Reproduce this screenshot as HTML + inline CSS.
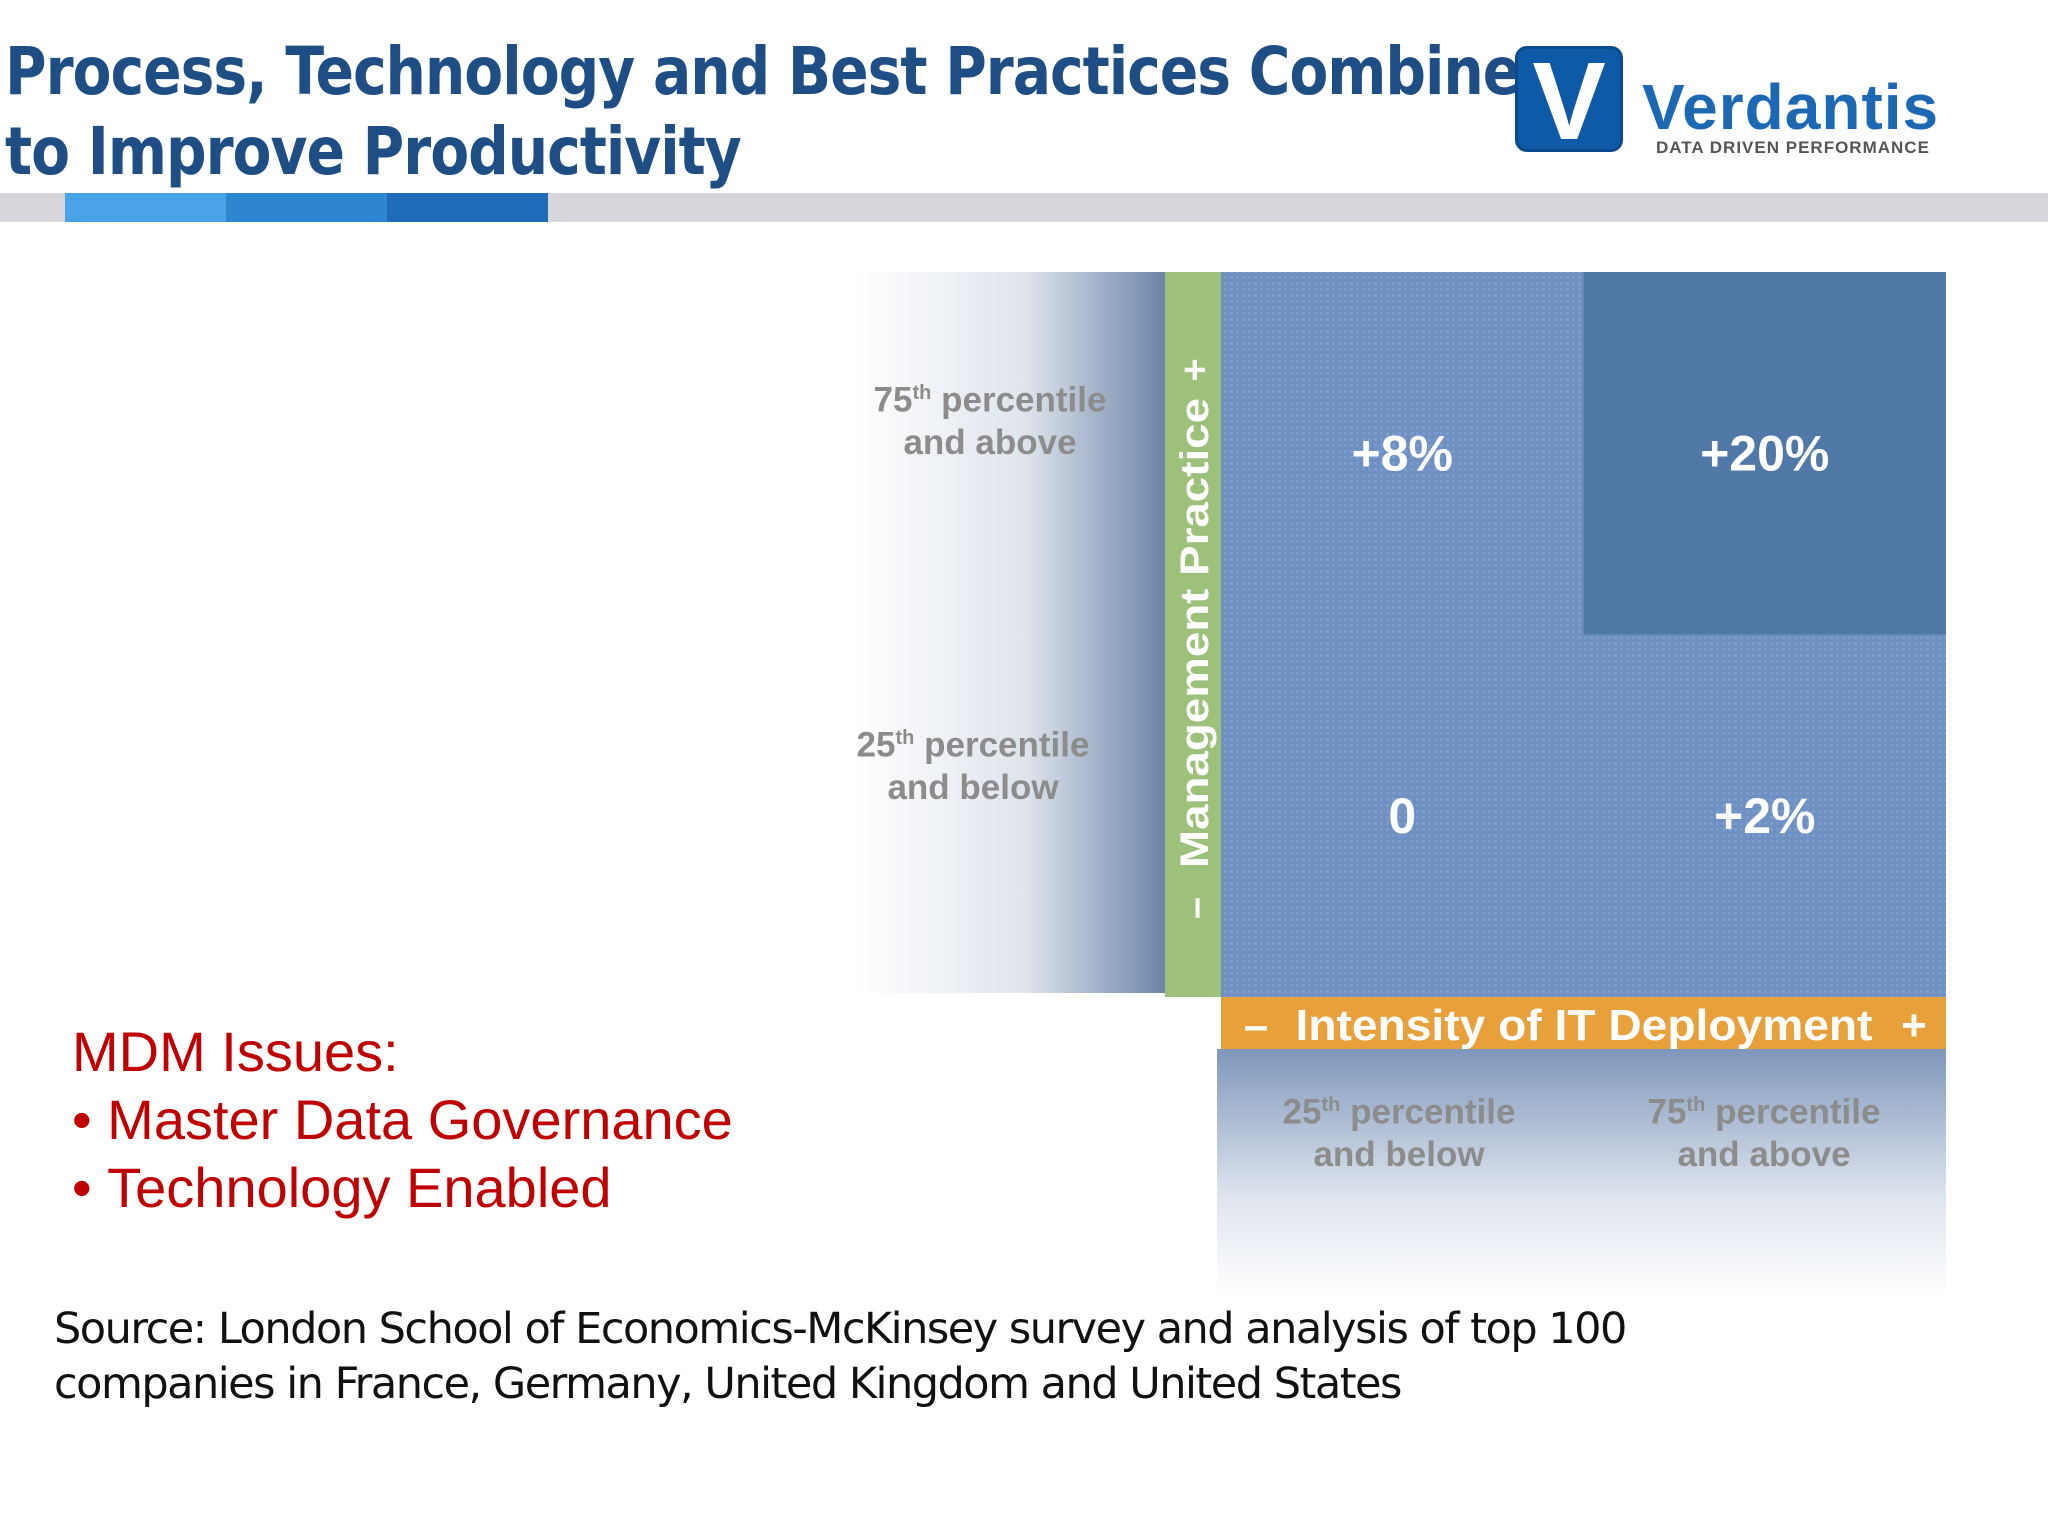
<!DOCTYPE html>
<html><head><meta charset="utf-8"><style>
body{margin:0;width:2048px;height:1536px;background:#fff;position:relative;overflow:hidden;font-family:"Liberation Sans",sans-serif}
.abs{position:absolute}
.title{left:5px;top:32px;font-size:66px;color:#1f4e84;font-family:"DejaVu Sans","Liberation Sans",sans-serif;font-weight:bold;line-height:80px;letter-spacing:-1.2px;transform:scaleX(0.86);transform-origin:0 0;white-space:nowrap}
.pl{color:#8c8c8c;font-weight:bold;font-size:35px;text-align:center;line-height:42px;width:320px}
.pl sup{font-size:20px}
</style></head><body>
<div class="abs title">Process, Technology and Best Practices Combine<br>to Improve Productivity</div>
<div class="abs" style="left:1515px;top:46px;width:108px;height:106px;background:#0f5aa6;border-radius:12px;border:3px solid #0a4a8a;box-sizing:border-box;color:#fff;font-weight:bold;font-size:110px;text-align:center;line-height:106px">V</div>
<div class="abs" style="left:1642px;top:72px;font-size:64px;font-weight:bold;color:#1d68b3;line-height:70px;letter-spacing:1px">Verdantis</div>
<div class="abs" style="left:1656px;top:138px;font-size:17px;font-weight:bold;color:#555;letter-spacing:1px">DATA DRIVEN PERFORMANCE</div>
<div class="abs" style="left:0;top:193px;width:2048px;height:29px;background:#d7d6da"></div>
<div class="abs" style="left:65px;top:193px;width:161px;height:29px;background:#4aa3e6"></div>
<div class="abs" style="left:226px;top:193px;width:161px;height:29px;background:#2f86d0"></div>
<div class="abs" style="left:387px;top:193px;width:161px;height:29px;background:#1f6bb8"></div>

<svg class="abs" style="left:0;top:0" width="2048" height="1536">
<defs>
<linearGradient id="gl" x1="0" x2="1"><stop offset="0" stop-color="#fff"/><stop offset="0.55" stop-color="#dfe4ec"/><stop offset="1" stop-color="#6d84a8"/></linearGradient>
<linearGradient id="gb" x1="0" y1="0" x2="0" y2="1"><stop offset="0" stop-color="#7f97bb"/><stop offset="0.6" stop-color="#dfe5ee"/><stop offset="1" stop-color="#fff"/></linearGradient>
<pattern id="tx" width="6" height="6" patternUnits="userSpaceOnUse"><rect width="6" height="6" fill="#6f91c2"/><rect width="3" height="3" fill="#7a9bcb"/></pattern>
</defs>
<rect x="855" y="272" width="310" height="721" fill="url(#gl)"/>
<rect x="1217" y="1049" width="729" height="248" fill="url(#gb)"/>
<g id="cells"></g>
<rect x="1165" y="272" width="56" height="725" fill="#9dc07a"/>
<g transform="translate(1208,0)" font-size="40" font-weight="bold" fill="#fff">
<text transform="translate(0,633) rotate(-90)" text-anchor="middle" textLength="470" lengthAdjust="spacingAndGlyphs">Management Practice</text>
<text transform="translate(0,908) rotate(-90)" text-anchor="middle">–</text>
<text transform="translate(0,370) rotate(-90)" text-anchor="middle">+</text>
</g>
<rect x="1221" y="997" width="725" height="52" fill="#e8a13a"/>
<g font-size="44" font-weight="bold" fill="#fff">
<text x="1584" y="1040" text-anchor="middle" textLength="577" lengthAdjust="spacingAndGlyphs">Intensity of IT Deployment</text>
<text x="1256" y="1040" text-anchor="middle">–</text>
<text x="1914" y="1040" text-anchor="middle">+</text>
</g>
</svg>

<div class="abs pl" style="left:830px;top:372px">75<sup>th</sup> percentile<br>and above</div>
<div class="abs pl" style="left:813px;top:717px">25<sup>th</sup> percentile<br>and below</div>
<div class="abs pl" style="left:1239px;top:1084px">25<sup>th</sup> percentile<br>and below</div>
<div class="abs pl" style="left:1604px;top:1084px">75<sup>th</sup> percentile<br>and above</div>

<div class="abs" style="left:72px;top:1018px;font-size:56px;color:#c00000;line-height:68px;letter-spacing:0px">MDM Issues:<br>•&nbsp;Master Data Governance<br>•&nbsp;Technology Enabled</div>
<div class="abs" style="left:54px;top:1302px;font-size:43px;color:#111;line-height:55px;font-family:'DejaVu Sans','Liberation Sans',sans-serif;letter-spacing:-1.5px">Source: London School of Economics-McKinsey survey and analysis of top 100<br>companies in France, Germany, United Kingdom and United States</div>

<script>
const itLevels=["low","high"];
const mgmtLevels=["high","low"];
const cellValues=[["+8%","+20%"],["0","+2%"]];
const cellDark=[[false,true],[false,false]];
const x0=1221,y0=272,cw=362.5,ch=362.5;
const g=document.getElementById('cells');
const ns="http://www.w3.org/2000/svg";
mgmtLevels.forEach((m,r)=>itLevels.forEach((it,c)=>{
  const rc=document.createElementNS(ns,'rect');
  
  
  rc.setAttribute('x',x0+c*cw);rc.setAttribute('y',y0+r*ch);
  rc.setAttribute('width',cw);rc.setAttribute('height',ch);
  rc.setAttribute('fill',cellDark[r][c]?'#5079a8':'url(#tx)');
  g.appendChild(rc);
  const t=document.createElementNS(ns,'text');
  
  
  t.setAttribute('x',x0+c*cw+cw/2);t.setAttribute('y',y0+r*ch+ch/2+17);
  t.setAttribute('text-anchor','middle');t.setAttribute('font-size','50');
  t.setAttribute('font-weight','bold');t.setAttribute('fill','#fff');
  t.textContent=cellValues[r][c];
  g.appendChild(t);
}));
</script>
</body></html>
